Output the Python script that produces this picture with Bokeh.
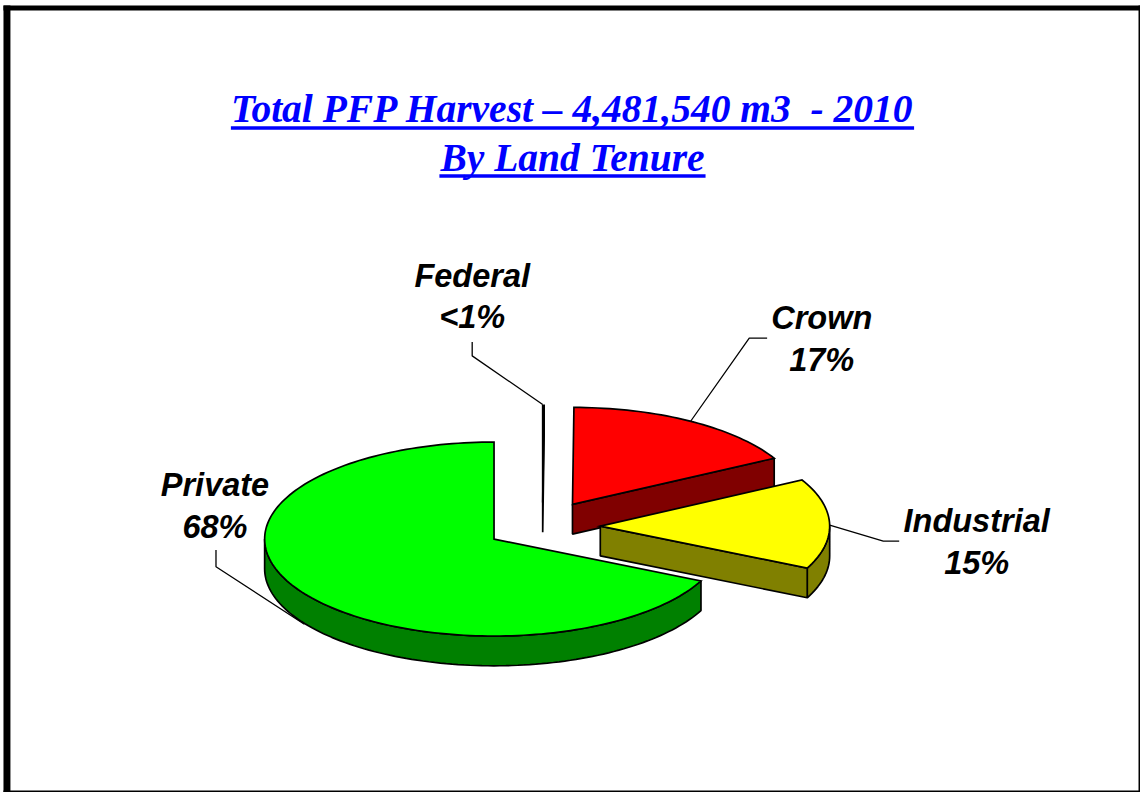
import math
from bokeh.plotting import figure
from bokeh.models import Range1d
from bokeh.core.properties import value
from bokeh.embed import file_html
from bokeh.resources import INLINE

# --- data ---
categories = ["Federal", "Crown", "Industrial", "Private"]
shares = [0.1, 17.0, 15.0, 67.9]
tick_labels = ["<1%", "17%", "15%", "68%"]
title_lines = ["Total PFP Harvest \u2013 4,481,540 m3\u00a0\u00a0- 2010", "By Land Tenure"]

# --- style and layout (all in the reference's 1148x800 frame) ---
top_colors = ["#000000", "#FF0000", "#FFFF00", "#00FF00"]
side_colors = ["#000000", "#800000", "#808000", "#008000"]
centers = [(546, 507), (576, 509), (604, 531), (497, 544)]
RX, RY, DEPTH = 231, 98, 30
label_pos = [(475, 278, 320), (827, 321, 363), (983, 526, 568), (216, 489, 532)]
leaders = [
    ([475, 475, 546], [345, 359, 408]),
    ([772, 754, 695], [341, 341, 425]),
    ([835, 889, 905], [530, 546, 546]),
    ([217, 217, 306], [555, 572, 630]),
]

p = figure(width=1140, height=792, output_backend="svg", toolbar_location=None,
           x_range=Range1d(0, 1148), y_range=Range1d(800, 0), min_border=0)
p.axis.visible = False
p.grid.visible = False
p.outline_line_color = None
p.background_fill_color = "#FFFFFF"
p.border_fill_color = "#FFFFFF"


def rim(cx, cy, a0, a1, dy=0):
    """Points on the ellipse; angles are degrees clockwise from 12 o'clock."""
    n = max(2, int(abs(a1 - a0) / 1.5) + 1)
    xs, ys = [], []
    for i in range(n + 1):
        a = math.radians(a0 + (a1 - a0) * i / n)
        xs.append(cx + RX * math.sin(a))
        ys.append(cy - RY * math.cos(a) + dy)
    return xs, ys


total = sum(shares)
start = 0.0
for cat, share, top, side, (cx, cy) in zip(categories, shares, top_colors, side_colors, centers):
    end = start + 360.0 * share / total
    a0, a1 = max(start, 90.0), min(end, 270.0)
    if a1 > a0:
        x_up, y_up = rim(cx, cy, a0, a1)
        x_dn, y_dn = rim(cx, cy, a0, a1, DEPTH)
        p.patch(x_up + x_dn[::-1], y_up + y_dn[::-1], fill_color=side,
                line_color="black", line_width=1.7)
    if end < 180:
        x_e, y_e = rim(cx, cy, end, end)
        ex, ey = x_e[0], y_e[0]
        p.patch([cx, ex, ex, cx], [cy, ey, ey + DEPTH, cy + DEPTH], fill_color=side,
                line_color="black", line_width=1.7)
    xs, ys = rim(cx, cy, start, end)
    p.patch([cx] + xs, [cy] + ys, fill_color=top, line_color="black", line_width=1.7,
            line_join="miter")
    start = end

for lx, ly in leaders:
    p.line(lx, ly, line_color="black", line_width=1.3)

for cat, lab, (lx, y1, y2) in zip(categories, tick_labels, label_pos):
    for txt, yy in ((cat, y1), (lab, y2)):
        p.text([lx], [yy], text=[txt], text_font=value("Liberation Sans"), text_font_size="32.5px",
               text_font_style="bold italic", text_align="center", text_baseline="alphabetic",
               text_color="black")

for line, by, ux0, ux1, uy0, uy1 in zip(title_lines, [110, 159], [232, 442], [920, 710],
                                        [127, 175.5], [130.5, 179]):
    p.text([576], [by], text=[line], text_font=value("Liberation Serif"), text_font_size="39.5px",
           text_font_style="bold italic", text_align="center", text_baseline="alphabetic",
           text_color="#0000FF")
    p.quad(left=[ux0], right=[ux1], top=[uy0], bottom=[uy1], fill_color="#0000FF", line_color=None)

p.quad(left=[3, 3, 1146, 3], right=[10, 1148, 1148, 1148],
       top=[5, 5, 5, 798], bottom=[800, 10, 800, 800],
       fill_color="black", line_color=None)

open("out.html", "w").write(file_html(p, INLINE))
